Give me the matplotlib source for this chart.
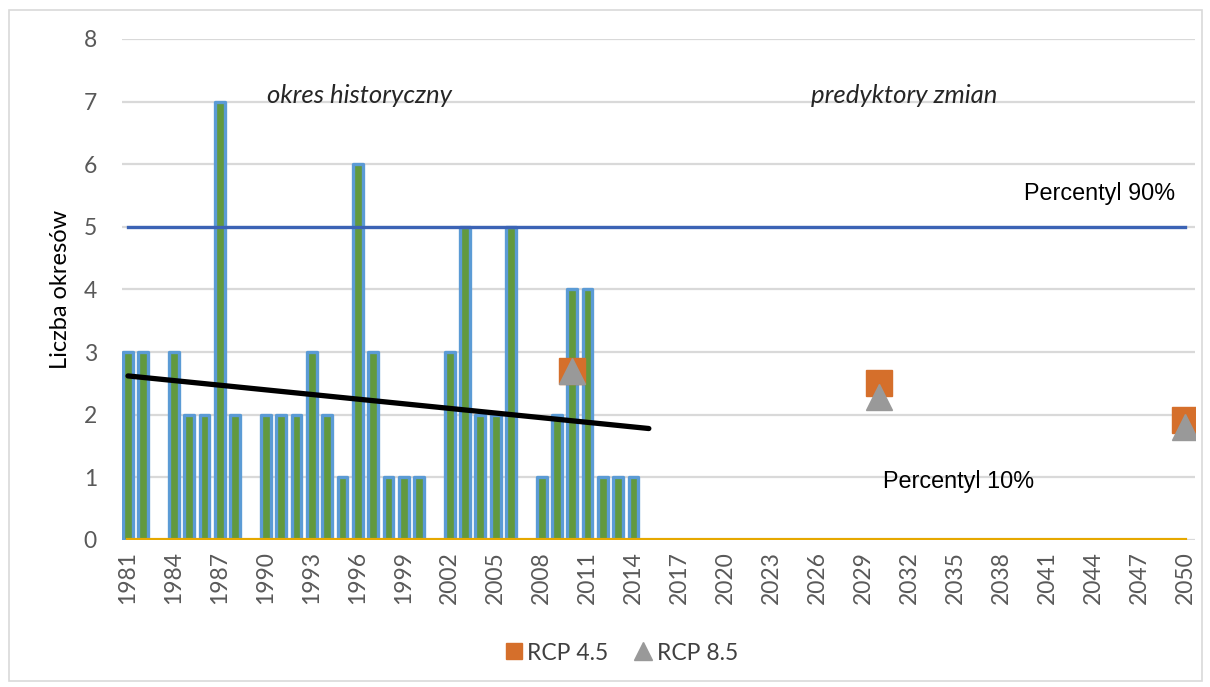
import matplotlib
matplotlib.use("Agg")
import matplotlib.pyplot as plt
from matplotlib.lines import Line2D
from matplotlib.patches import Rectangle

# ---- data ----
years = list(range(1981, 2051))
hist_years = list(range(1981, 2015))
hist_values = [3, 3, 0, 3, 2, 2, 7, 2, 0, 2, 2, 2, 3, 2, 1, 6, 3, 1, 1, 1,
               0, 3, 5, 2, 2, 5, 0, 1, 2, 4, 4, 1, 1, 1]
trend_years = [1981, 2015]
trend_values = [2.62, 1.78]
rcp_years = [2010, 2030, 2050]
rcp45 = [2.70, 2.50, 1.91]
rcp85 = [2.70, 2.29, 1.80]
p90 = 5
p10 = 0
tick_years = list(range(1981, 2051, 3))
y_ticks = list(range(0, 9))

W, H = 1210, 687
fig = plt.figure(figsize=(W / 100, H / 100), dpi=100)
ax = fig.add_axes([122 / W, 1 - 540 / H, (1195 - 122) / W, (540 - 39) / H])

ax.set_xlim(1981 - 6 / 15.32, 2050 + 10 / 15.32)
ax.set_ylim(0, 8)

for y in y_ticks:
    ax.axhline(y, color="#d9d9d9", lw=1.6, zorder=0)

ax.bar(hist_years, hist_values, width=0.64, color="#62993e", edgecolor="#5b9bd5",
       linewidth=2.4, joinstyle="round", zorder=2)

ax.plot([years[0], years[-1]], [p90, p90], color="#3b63b5", lw=2.4, zorder=3)
ax.plot([years[0], years[-1]], [p10, p10], color="#e6a800", lw=3.0, zorder=3)

ax.plot(trend_years, trend_values, color="black", lw=3.8, solid_capstyle="round", zorder=4)

ax.plot(rcp_years, rcp45, linestyle="none", marker="s", markersize=19,
        color="#d56f2b", zorder=5)
ax.plot(rcp_years, rcp85, linestyle="none", marker="^", markersize=19,
        color="#999999", zorder=6)

for s in ax.spines.values():
    s.set_visible(False)

ax.set_yticks(y_ticks)
ax.set_xticks(tick_years)
ax.set_xticklabels([str(t) for t in tick_years], rotation=90)
ax.tick_params(axis="y", length=0, pad=18, labelsize=16.5, labelcolor="#595959")
ax.tick_params(axis="x", length=0, pad=8, labelsize=16.5, labelcolor="#595959")
for lbl in ax.get_xticklabels() + ax.get_yticklabels():
    lbl.set_family("Lato")

ax.set_ylabel("Liczba okresów", family="Lato", fontsize=17, color="black", labelpad=9)

ax.text(1996.1, 7.1, "okres historyczny", ha="center", va="center", style="italic",
        family="Lato", fontsize=18.5, color="#262626")
ax.text(2031.7, 7.1, "predyktory zmian", ha="center", va="center", style="italic",
        family="Lato", fontsize=18.5, color="#262626")
ax.text(2044.4, 5.54, "Percentyl 90%", ha="center", va="center",
        family="Liberation Sans", fontsize=16.8, color="black")
ax.text(2035.2, 0.93, "Percentyl 10%", ha="center", va="center",
        family="Liberation Sans", fontsize=16.8, color="black")

handles = [Line2D([], [], linestyle="none", marker="s", markersize=12, color="#d56f2b"),
           Line2D([], [], linestyle="none", marker="^", markersize=13, color="#999999")]
leg = fig.legend(handles, ["RCP 4.5", "RCP 8.5"], loc="center",
                 bbox_to_anchor=(620 / W, 1 - 653 / H), ncol=2, frameon=False,
                 prop={"family": "Lato", "size": 16.5}, handletextpad=0.1,
                 columnspacing=1.0, handlelength=1.0)
for t in leg.get_texts():
    t.set_color("#404040")

fig.patches.append(Rectangle((8.5 / W, 1 - 681 / H), (1202 - 8.5) / W, (681 - 10) / H,
                             transform=fig.transFigure, fill=False,
                             edgecolor="#d9d9d9", lw=1.2))

fig.savefig("out.png", dpi=100)
